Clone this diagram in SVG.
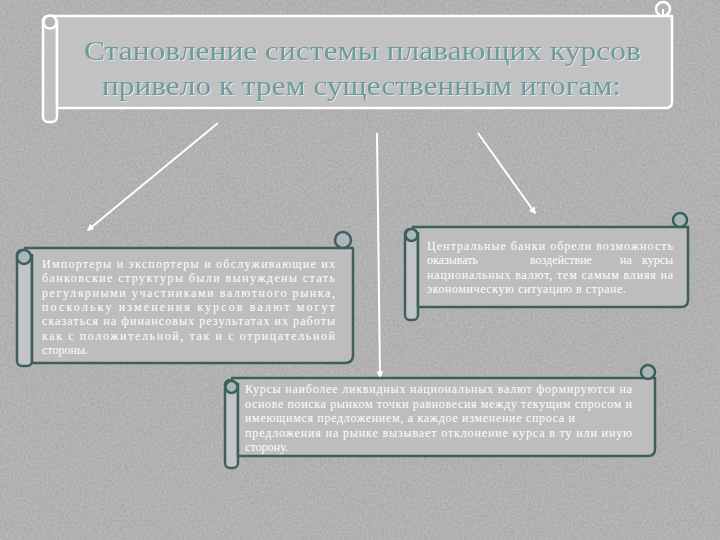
<svg xmlns="http://www.w3.org/2000/svg" width="720" height="540" viewBox="0 0 720 540">
<style>
.scroll{fill:#bdbdbd;stroke:#3e605d;stroke-width:2.5;stroke-linejoin:round}
.strip{fill:#c3c3ca;stroke:#3e605d;stroke-width:2.5}
.curl{fill:#aab6b8;stroke:#3e605d;stroke-width:2.5}
.tscroll{fill:#c2c2c2;stroke:#ffffff;stroke-width:2.5;stroke-linejoin:round}
.tstrip{fill:#c0c0c0;stroke:#ffffff;stroke-width:2.5}
.tcurl{fill:#b5b5b5;stroke:#ffffff;stroke-width:2.5}
.title{font-family:"Liberation Serif","DejaVu Serif",serif;font-size:27px;fill:#6d9a9a}
.body{font-family:"Liberation Serif","DejaVu Serif",serif;font-size:12px;fill:#ffffff}
.conn{stroke:#ffffff;stroke-width:2;fill:none}
</style>
<defs>
<marker id="ah" viewBox="0 0 10 10" refX="8" refY="5" markerWidth="7" markerHeight="7" markerUnits="userSpaceOnUse" orient="auto">
<path d="M0,0 L10,5 L0,10 z" fill="#ffffff"/>
</marker>
<filter id="noise" x="0" y="0" width="100%" height="100%">
<feTurbulence type="fractalNoise" baseFrequency="0.45" numOctaves="3" seed="3"/>
<feColorMatrix type="matrix" values="0 0 0 0 0.78  0 0 0 0 0.78  0 0 0 0 0.78  0 0 0 0.45 -0.05"/>
</filter>
<filter id="sh" x="-5%" y="-20%" width="110%" height="140%">
<feDropShadow dx="1" dy="1" stdDeviation="0.6" flood-color="#e8eef0" flood-opacity="0.8"/>
</filter>
</defs>
<rect x="0" y="0" width="720" height="540" fill="#a6a6a6"/>
<rect x="0" y="0" width="720" height="540" filter="url(#noise)"/>

<g id="title">
<rect class="tstrip" x="43" y="16" width="14" height="106" rx="5"/>
<path class="tscroll" d="M50,16 L672,16 L672,102 Q672,108 666,108 L57,108 L57,20"/>
<circle class="tcurl" cx="663" cy="9" r="7"/>
<path d="M663,9 L663,16" stroke="#ffffff" stroke-width="2"/>
<circle class="tcurl" cx="50" cy="22" r="6.5"/>
<text class="title" filter="url(#sh)" x="84" y="60" textLength="557" lengthAdjust="spacingAndGlyphs">Становление системы плавающих курсов</text>
<text class="title" filter="url(#sh)" x="102" y="95" textLength="519" lengthAdjust="spacingAndGlyphs">привело к трем существенным итогам:</text>
</g>

<g id="connectors">
<line class="conn" x1="218" y1="123" x2="88" y2="230" marker-end="url(#ah)"/>
<line class="conn" x1="377" y1="133" x2="380" y2="377" marker-end="url(#ah)"/>
<line class="conn" x1="478" y1="133" x2="535" y2="213" marker-end="url(#ah)"/>
</g>

<g id="box1">
<rect class="strip" x="17" y="250" width="15" height="116" rx="5"/>
<path class="scroll" d="M24,248 L353,248 L353,355 Q353,363 345,363 L32,363 L32,254"/>
<circle class="curl" cx="343" cy="240" r="8"/>
<circle class="curl" cx="24" cy="257" r="7"/>
<text class="body" x="42" y="268" textLength="293">Импортеры и экспортеры и обслуживающие их</text>
<text class="body" x="42" y="282" textLength="293">банковские структуры были вынуждены стать</text>
<text class="body" x="42" y="297" textLength="293">регулярными участниками валютного рынка,</text>
<text class="body" x="42" y="311" textLength="293">поскольку изменения курсов валют могут</text>
<text class="body" x="42" y="325" textLength="293">сказаться на финансовых результатах их работы</text>
<text class="body" x="42" y="340" textLength="293">как с положительной, так и с отрицательной</text>
<text class="body" x="42" y="354" textLength="46">стороны.</text>
</g>

<g id="box2">
<rect class="strip" x="405" y="229" width="13" height="91" rx="5"/>
<path class="scroll" d="M412,227 L688,227 L688,300 Q688,307 681,307 L418,307 L418,232"/>
<circle class="curl" cx="680" cy="220" r="7"/>
<circle class="curl" cx="411.5" cy="235" r="6"/>
<text class="body" x="427" y="250" textLength="246">Центральные банки обрели возможность</text>
<text class="body" y="264"><tspan x="427">оказывать</tspan><tspan x="530">воздействие</tspan><tspan x="620">на</tspan><tspan x="642" textLength="31">курсы</tspan></text>
<text class="body" x="427" y="279" textLength="246">национальных валют, тем самым влияя на</text>
<text class="body" x="427" y="293" textLength="199">экономическую ситуацию в стране.</text>
</g>

<g id="box3">
<rect class="strip" x="225" y="380" width="13" height="88" rx="5"/>
<path class="scroll" d="M231,378 L655,378 L655,449 Q655,456 648,456 L238,456 L238,383"/>
<circle class="curl" cx="648" cy="372" r="7"/>
<circle class="curl" cx="231.5" cy="387" r="6"/>
<text class="body" x="245" y="393" textLength="387">Курсы наиболее ликвидных национальных валют формируются на</text>
<text class="body" x="245" y="408" textLength="387">основе поиска рынком точки равновесия между текущим спросом и</text>
<text class="body" x="245" y="422" textLength="330">имеющимся предложением, а каждое изменение спроса и</text>
<text class="body" x="245" y="437" textLength="387">предложения на рынке вызывает отклонение курса в ту или иную</text>
<text class="body" x="245" y="451" textLength="43">сторону.</text>
</g>
</svg>
